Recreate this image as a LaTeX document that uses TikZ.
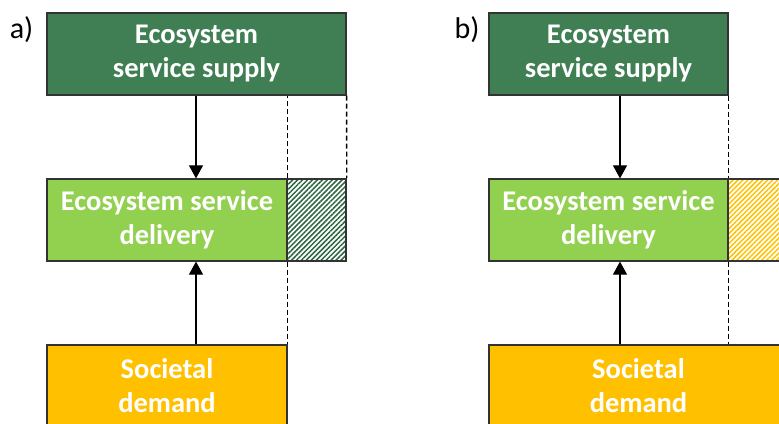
\documentclass[tikz,border=0pt]{standalone}
\usepackage{fontspec}
\setmainfont{Carlito}
\usepackage{xcolor}
\usetikzlibrary{arrows.meta,patterns.meta}

\definecolor{supplygreen}{RGB}{64,126,84}
\definecolor{hatchgreen}{RGB}{46,104,66}
\definecolor{deliverygreen}{RGB}{146,208,80}
\definecolor{demandorange}{RGB}{255,192,0}

\tikzset{
  box/.style={draw=black!80, line width=1.2pt, minimum height=82pt, inner sep=0pt,
    align=center, text=white, font=\bfseries\fontsize{28.5}{34}\selectfont},
  gap/.style={box, pattern={Lines[angle=45,distance=3.5pt,line width=1.5pt]}},
  flow/.style={line width=1.1pt, -{Triangle[width=14pt,length=13pt]}},
  edge/.style={line width=1.4pt, dash pattern=on 5pt off 3pt},
  panel/.style={font=\fontsize{30}{34}\selectfont}
}

\begin{document}
\begin{tikzpicture}[x=1pt,y=1pt]
                \useasboundingbox (0,0) rectangle (779,423);
                \clip (0,0) rectangle (779,423);

                % a) demand smaller than supply
                \node[panel] (labelA) at (21.5,393) {a)};
                \node[box,fill=supplygreen,minimum width=299pt] (supplyA) at (196.5,369) {Ecosystem\\service supply};
                \node[box,fill=deliverygreen,minimum width=240pt] (deliveryA) at (167,203) {Ecosystem service\\delivery};
                \node[gap,pattern color=hatchgreen,minimum width=59pt] (gapA) at (316.5,203) {};
                \node[box,fill=demandorange,minimum width=240pt] (demandA) at (167,37) {Societal\\demand};
                \coordinate (axisA) at (196,0);

                \draw[flow] (supplyA.south -| axisA) -- (deliveryA.north -| axisA);
                \draw[flow] (demandA.north -| axisA) -- (deliveryA.south -| axisA);
                \draw[edge] (supplyA.south east) -- (gapA.north east);
                \draw[edge] (deliveryA.north east) -- (deliveryA.north east |- supplyA.south);
                \draw[edge] (deliveryA.south east) -- (demandA.north east);

                % b) demand larger than supply
                \node[panel] (labelB) at (467,393) {b)};
                \node[box,fill=supplygreen,minimum width=239pt] (supplyB) at (608.5,369) {Ecosystem\\service supply};
                \node[box,fill=deliverygreen,minimum width=239pt] (deliveryB) at (608.5,203) {Ecosystem service\\delivery};
                \node[gap,pattern color=demandorange,minimum width=60pt] (gapB) at (758,203) {};
                \node[box,fill=demandorange,minimum width=299pt] (demandB) at (638.5,37) {Societal\\demand};
                \coordinate (axisB) at (620,0);

                \draw[flow] (supplyB.south -| axisB) -- (deliveryB.north -| axisB);
                \draw[flow] (demandB.north -| axisB) -- (deliveryB.south -| axisB);
                \draw[edge] (supplyB.south east) -- (deliveryB.north east);
                \draw[edge] (deliveryB.south east) -- (deliveryB.south east |- demandB.north);
            \end{tikzpicture}
\end{document}
